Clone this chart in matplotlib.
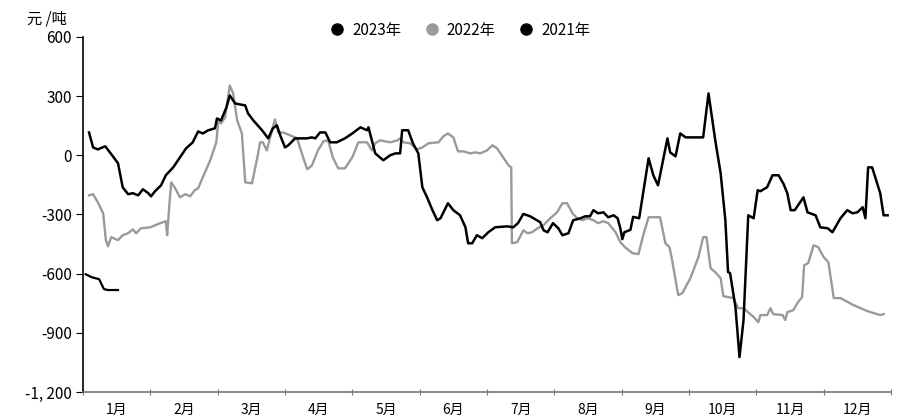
import numpy as np
import matplotlib
matplotlib.use("Agg")
import matplotlib.pyplot as plt
from matplotlib.lines import Line2D
from matplotlib.ticker import FuncFormatter

plt.rcParams['font.family'] = ['Noto Sans CJK SC', 'DejaVu Sans']
plt.rcParams['font.weight'] = 'medium'

# x = position in months (0 = 1 Jan, 12 = 31 Dec), y = 元/吨
x_2021 = [0.09, 0.15, 0.22, 0.33, 0.40, 0.52, 0.59, 0.67, 0.74, 0.82, 0.89, 0.97, 1.01, 1.07, 1.16, 1.23,
          1.34, 1.44, 1.53, 1.63, 1.71, 1.78, 1.86, 1.96, 1.99, 2.05, 2.13, 2.18, 2.26, 2.41, 2.45, 2.53,
          2.66, 2.75, 2.82, 2.88, 2.93, 3.00, 3.05, 3.15, 3.33, 3.40, 3.45, 3.52, 3.60, 3.67, 3.77, 3.89,
          4.00, 4.12, 4.22, 4.24, 4.29, 4.34, 4.46, 4.56, 4.64, 4.71, 4.74, 4.83, 4.90, 4.98, 5.04, 5.11,
          5.19, 5.26, 5.31, 5.42, 5.50, 5.60, 5.68, 5.72, 5.78, 5.85, 5.93, 6.02, 6.12, 6.30, 6.39, 6.46,
          6.54, 6.64, 6.69, 6.79, 6.84, 6.90, 6.98, 7.06, 7.12, 7.21, 7.28, 7.39, 7.46, 7.53, 7.58, 7.65,
          7.73, 7.80, 7.88, 7.94, 7.98, 8.01, 8.04, 8.13, 8.17, 8.26, 8.40, 8.47, 8.54, 8.68, 8.72, 8.80,
          8.87, 8.95, 9.21, 9.29, 9.39, 9.47, 9.54, 9.58, 9.61, 9.69, 9.75, 9.81, 9.88, 9.96, 10.02, 10.06,
          10.16, 10.24, 10.33, 10.40, 10.46, 10.51, 10.57, 10.70, 10.76, 10.88, 10.95, 11.06, 11.13, 11.25,
          11.35, 11.43, 11.50, 11.58, 11.62, 11.66, 11.72, 11.84, 11.89, 11.95]
y_2021 = [116, 40, 30, 46, 15, -40, -162, -197, -192, -203, -172, -192, -208, -182, -152, -101,
          -61, -10, 35, 66, 121, 111, 127, 137, 187, 177, 243, 304, 263, 253, 213, 177,
          127, 86, 137, 152, 101, 40, 51, 86, 86, 91, 86, 116, 116, 66, 66, 86,
          111, 142, 127, 142, 76, 10, -25, 0, 10, 10, 127, 127, 61, 10, -162, -213,
          -278, -329, -319, -243, -278, -304, -365, -446, -446, -405, -420, -390, -365, -360, -365, -344,
          -297, -309, -319, -339, -380, -390, -344, -370, -405, -395, -329, -319, -309, -309, -278, -294,
          -289, -314, -304, -319, -370, -425, -390, -378, -312, -319, -15, -101, -152, 86, 15, -5,
          111, 91, 91, 314, 76, -91, -329, -592, -597, -770, -1023, -835, -304, -319, -177, -182,
          -162, -101, -101, -142, -192, -278, -278, -213, -289, -304, -365, -370, -390, -319,
          -278, -294, -289, -263, -319, -61, -61, -192, -304, -304]

x_2022 = [0.09, 0.15, 0.22, 0.30, 0.34, 0.37, 0.42, 0.52, 0.59, 0.67, 0.74, 0.79, 0.86, 1.00, 1.11, 1.23,
          1.25, 1.28, 1.31, 1.37, 1.44, 1.52, 1.59, 1.66, 1.71, 1.78, 1.89, 1.98, 2.01, 2.05, 2.11, 2.18,
          2.23, 2.29, 2.36, 2.41, 2.51, 2.59, 2.63, 2.67, 2.73, 2.78, 2.85, 2.90, 2.97, 3.08, 3.18, 3.25,
          3.33, 3.40, 3.49, 3.57, 3.64, 3.71, 3.79, 3.89, 4.00, 4.09, 4.22, 4.29, 4.34, 4.41, 4.56, 4.67,
          4.71, 4.76, 4.86, 4.96, 5.04, 5.13, 5.28, 5.35, 5.42, 5.50, 5.57, 5.65, 5.75, 5.83, 5.90, 6.00,
          6.08, 6.15, 6.24, 6.32, 6.36, 6.37, 6.45, 6.54, 6.60, 6.67, 6.75, 6.84, 6.94, 7.04, 7.12, 7.19,
          7.27, 7.34, 7.42, 7.49, 7.58, 7.65, 7.73, 7.80, 7.91, 7.98, 8.05, 8.16, 8.25, 8.32, 8.40, 8.57,
          8.65, 8.71, 8.75, 8.84, 8.90, 9.02, 9.14, 9.21, 9.26, 9.32, 9.39, 9.47, 9.51, 9.66, 9.73, 9.81,
          9.96, 10.03, 10.06, 10.16, 10.21, 10.25, 10.39, 10.43, 10.46, 10.55, 10.62, 10.68, 10.71, 10.77,
          10.85, 10.92, 11.00, 11.07, 11.15, 11.25, 11.44, 11.65, 11.84, 11.89]
y_2022 = [-203, -197, -238, -294, -430, -461, -415, -430, -405, -395, -375, -395, -370, -365, -349, -334,
          -405, -263, -137, -167, -213, -197, -208, -177, -167, -111, -25, 66, 177, 162, 192, 354,
          314, 177, 111, -137, -142, -10, 66, 66, 25, 91, 182, 116, 116, 101, 86, 10,
          -71, -51, 25, 71, 76, -10, -66, -66, -10, 66, 66, 25, 61, 76, 66, 76,
          86, 66, 61, 30, 40, 61, 66, 96, 111, 91, 20, 20, 10, 15, 10, 25,
          51, 35, -10, -51, -61, -446, -440, -380, -395, -390, -370, -354, -319, -289, -243, -243,
          -294, -319, -329, -319, -329, -344, -334, -344, -390, -440, -466, -496, -501, -405, -314, -314,
          -446, -466, -532, -709, -699, -623, -516, -415, -415, -572, -592, -623, -714, -724, -775, -775,
          -820, -846, -810, -810, -775, -805, -810, -835, -795, -785, -744, -719, -557, -547,
          -456, -466, -516, -542, -724, -724, -759, -790, -810, -805]

x_2023 = [0.04, 0.13, 0.24, 0.31, 0.37, 0.52]
y_2023 = [-603, -618, -628, -678, -683, -683]

months = ['1月', '2月', '3月', '4月', '5月', '6月', '7月', '8月', '9月', '10月', '11月', '12月']
yticks = [600, 300, 0, -300, -600, -900, -1200]

black = '#000000'
gray = '#9a9a9a'

fig = plt.figure(figsize=(9, 4.18), dpi=100)
ax = fig.add_axes([0.0922, 0.0622, 0.8978, 0.8493])

ax.plot(x_2022, y_2022, color=gray, lw=1.7)
ax.plot(x_2021, y_2021, color=black, lw=1.8)
ax.plot(x_2023, y_2023, color=black, lw=1.6)

ax.set_xlim(0, 12)
ax.set_ylim(-1200, 600)
ax.set_yticks(yticks)
ax.yaxis.set_major_formatter(FuncFormatter(lambda v, p: '{:,.0f}'.format(v).replace(',', ', ')))
ax.set_xticks(range(13))
ax.set_xticklabels([])
ax.set_xticks(np.arange(12) + 0.5, minor=True)
ax.set_xticklabels(months, minor=True)
ax.tick_params(axis='x', which='minor', length=0, labelsize=10, pad=8)
ax.tick_params(axis='x', which='major', length=5, direction='inout', color='#777777')
ax.tick_params(axis='y', length=5, direction='out', labelsize=11, pad=3)

for s in ['top', 'right']:
    ax.spines[s].set_visible(False)
ax.spines['bottom'].set_color('#777777')
ax.spines['bottom'].set_linewidth(1.2)
ax.spines['left'].set_linewidth(1.2)

fig.text(0.03, 0.955, '元 /吨', fontsize=11, va='center', ha='left')

handles = [Line2D([], [], color=black, marker='o', ls='none', markersize=8),
           Line2D([], [], color=gray, marker='o', ls='none', markersize=8),
           Line2D([], [], color=black, marker='o', ls='none', markersize=8)]
fig.legend(handles, ['2023年', '2022年', '2021年'], loc='center', ncol=3,
           bbox_to_anchor=(0.51, 0.928), frameon=False, fontsize=11,
           handletextpad=0.4, columnspacing=1.4, handlelength=1.2)

fig.savefig('out.png', dpi=100)
